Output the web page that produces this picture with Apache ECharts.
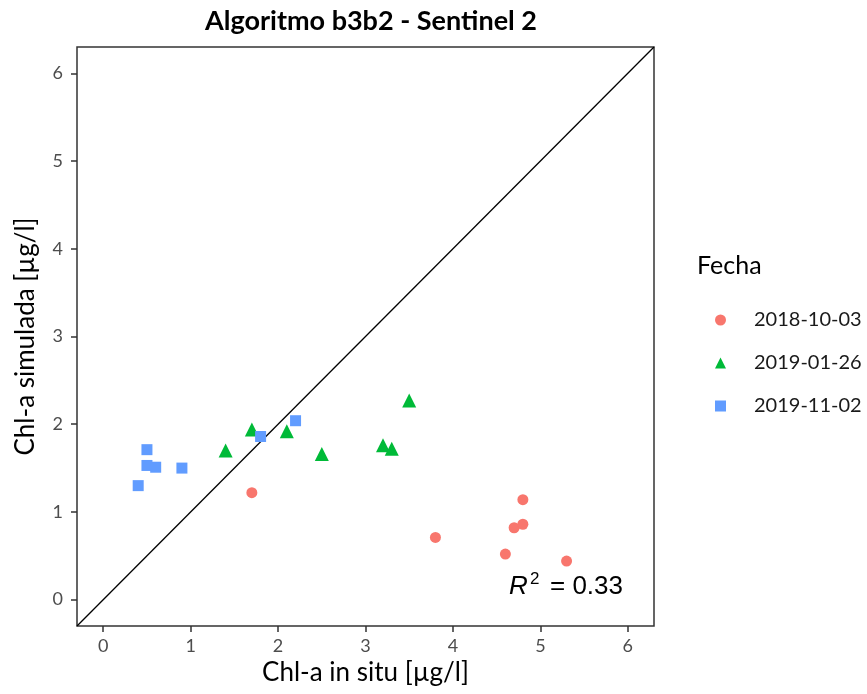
<!DOCTYPE html>
<html><head><meta charset="utf-8">
<script src="https://cdn.jsdelivr.net/npm/echarts@6/dist/echarts.min.js"></script>
<style>html,body{margin:0;padding:0;background:#fff}#c{width:867px;height:694px}</style>
</head><body><div id="c"></div>
<script>
const seriesNames = ['2018-10-03', '2019-01-26', '2019-11-02'];
const redX = [1.7, 3.8, 4.6, 4.7, 4.8, 4.8, 5.3];
const redY = [1.22, 0.71, 0.52, 0.82, 0.86, 1.14, 0.44];
const greenX = [1.4, 1.7, 2.1, 2.5, 3.2, 3.3, 3.5];
const greenY = [1.70, 1.94, 1.92, 1.66, 1.76, 1.72, 2.27];
const blueX = [0.4, 0.5, 0.5, 0.6, 0.9, 1.8, 2.2];
const blueY = [1.30, 1.71, 1.53, 1.51, 1.50, 1.86, 2.04];
const ticks = [0, 1, 2, 3, 4, 5, 6];
const axisRange = [-0.3, 6.3];
const r2Value = '0.33';

const zip = (a, b) => a.map((v, i) => [v, b[i]]);
const font = 'Lato';
const chart = echarts.init(document.getElementById('c'));
const axisCommon = {
  type: 'value', min: axisRange[0], max: axisRange[1],
  splitLine: { show: false },
  axisLine: { show: false, onZero: false },
  axisTick: { show: true, length: 6, customValues: ticks, lineStyle: { color: '#333', width: 1.5 } },
  axisLabel: { customValues: ticks, color: '#4d4d4d', fontSize: 18, fontFamily: font },
  nameLocation: 'middle',
  nameTextStyle: { color: '#000', fontSize: 26, fontFamily: font }
};
chart.setOption({
  animation: false,
  title: { text: 'Algoritmo b3b2 - Sentinel 2', left: 366, textAlign: 'center', top: 3,
    textStyle: { fontSize: 27, fontWeight: 'bold', fontFamily: font, color: '#000' } },
  grid: { left: 77, right: 213, top: 47, bottom: 68, show: true, borderColor: '#333', borderWidth: 1.5, containLabel: false },
  xAxis: Object.assign({}, axisCommon, { name: 'Chl-a in situ [µg/l]', nameGap: 33,
    axisLabel: Object.assign({}, axisCommon.axisLabel, { margin: 11 }) }),
  yAxis: Object.assign({}, axisCommon, { name: 'Chl-a simulada [µg/l]', nameGap: 38,
    axisLabel: Object.assign({}, axisCommon.axisLabel, { margin: 14 }) }),
  legend: {
    data: seriesNames, orient: 'vertical', left: 710, top: 305,
    itemWidth: 11, itemHeight: 11, itemGap: 23,
    textStyle: { fontSize: 20, fontFamily: font, color: '#1a1a1a', padding: [0, 0, 0, 23] }
  },
  graphic: [
    { type: 'text', left: 697, top: 253, style: { text: 'Fecha', fontSize: 25, fontFamily: font, fill: '#000' } },
    { type: 'text', x: 509, y: 587, style: { text: 'R', fontSize: 26, fontStyle: 'italic', fontFamily: 'Liberation Sans', fill: '#000', verticalAlign: 'middle' } },
    { type: 'text', x: 530, y: 579, style: { text: '2', fontSize: 17, fontFamily: 'Liberation Sans', fill: '#000', verticalAlign: 'middle' } },
    { type: 'text', x: 550, y: 587, style: { text: '= ' + r2Value, fontSize: 26, fontFamily: 'Liberation Sans', fill: '#000', verticalAlign: 'middle' } }
  ],
  series: [
    { type: 'line', data: zip(axisRange, axisRange), showSymbol: false, silent: true,
      lineStyle: { color: '#000', width: 1.3 }, z: 1 },
    { name: seriesNames[0], type: 'scatter', data: zip(redX, redY), symbol: 'circle', symbolSize: 11,
      itemStyle: { color: '#F8766D', opacity: 1 }, z: 3 },
    { name: seriesNames[1], type: 'scatter', data: zip(greenX, greenY), symbol: 'triangle', symbolSize: 14,
      itemStyle: { color: '#00BA38', opacity: 1 }, z: 3 },
    { name: seriesNames[2], type: 'scatter', data: zip(blueX, blueY), symbol: 'rect', symbolSize: 11,
      itemStyle: { color: '#619CFF', opacity: 1 }, z: 3 }
  ]
});
</script></body></html>
